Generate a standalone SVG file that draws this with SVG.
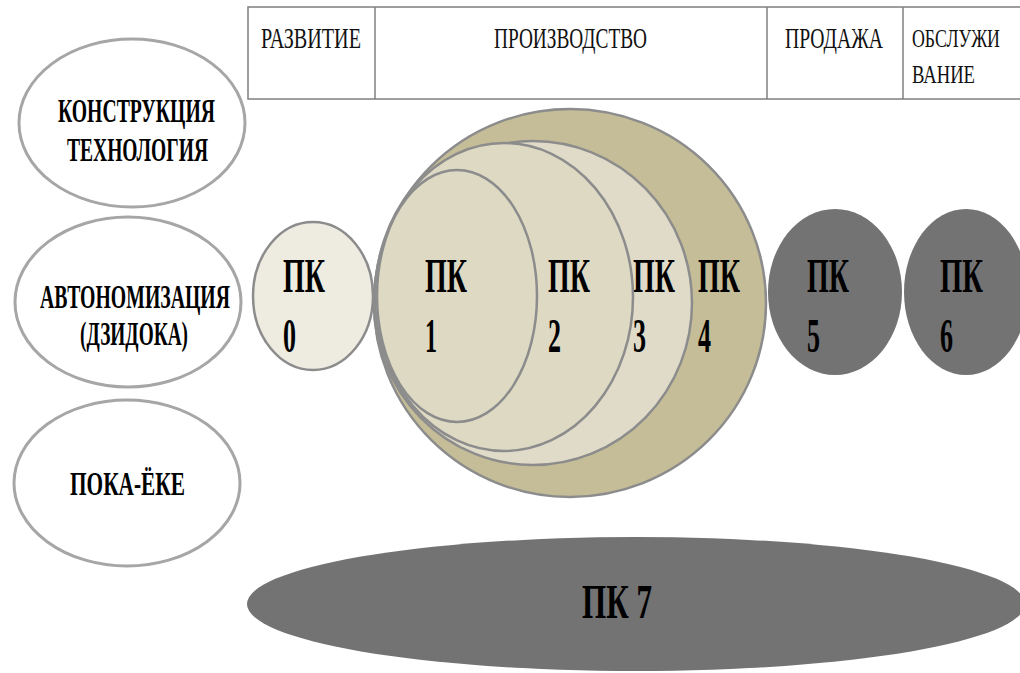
<svg xmlns="http://www.w3.org/2000/svg" width="1020" height="673" viewBox="0 0 1020 673">
<style>
.hdr{font-family:"Liberation Serif","Times New Roman",serif;font-size:30px;fill:#111}
.hdr-s{font-family:"Liberation Serif","Times New Roman",serif;font-size:25px;fill:#111}
.lbl{font-family:"Liberation Serif","Times New Roman",serif;font-weight:bold;font-size:34px;fill:#000}
.pk{font-family:"Liberation Serif","Times New Roman",serif;font-weight:bold;font-size:48px;fill:#000}
.oval{fill:#ffffff;stroke:#a6a6a6;stroke-width:3}
.light{stroke:#8c8c8c;stroke-width:2.5}
.dark{fill:#737373}
.line{stroke:#7f7f7f;stroke-width:1.5;fill:none}
</style>
<rect width="1020" height="673" fill="#ffffff"/>
<g id="header">
  <rect x="248" y="7" width="776" height="92" fill="#ffffff" class="line"/>
  <line x1="375" y1="7" x2="375" y2="99" class="line"/>
  <line x1="767" y1="7" x2="767" y2="99" class="line"/>
  <line x1="903" y1="7" x2="903" y2="99" class="line"/>
  <text class="hdr" x="261" y="48" textLength="100" lengthAdjust="spacingAndGlyphs">РАЗВИТИЕ</text>
  <text class="hdr" x="494" y="48" textLength="153" lengthAdjust="spacingAndGlyphs">ПРОИЗВОДСТВО</text>
  <text class="hdr" x="785" y="48" textLength="98" lengthAdjust="spacingAndGlyphs">ПРОДАЖА</text>
  <text class="hdr-s" x="912" y="47" textLength="88" lengthAdjust="spacingAndGlyphs">ОБСЛУЖИ</text>
  <text class="hdr-s" x="912" y="83" textLength="63" lengthAdjust="spacingAndGlyphs">ВАНИЕ</text>
</g>
<g id="konstrukciya">
  <ellipse class="oval" cx="132" cy="123" rx="113" ry="84"/>
  <text class="lbl" x="58" y="122" textLength="157" lengthAdjust="spacingAndGlyphs">КОНСТРУКЦИЯ</text>
  <text class="lbl" x="67" y="161" textLength="141" lengthAdjust="spacingAndGlyphs">ТЕХНОЛОГИЯ</text>
</g>
<g id="avtonomizaciya">
  <ellipse class="oval" cx="128" cy="302" rx="113" ry="85"/>
  <text class="lbl" x="40" y="308" textLength="190" lengthAdjust="spacingAndGlyphs">АВТОНОМИЗАЦИЯ</text>
  <text class="lbl" x="80" y="345" textLength="108" lengthAdjust="spacingAndGlyphs">(ДЗИДОКА)</text>
</g>
<g id="poka-yoke">
  <ellipse class="oval" cx="127" cy="483" rx="113" ry="83"/>
  <text class="lbl" x="70" y="495" textLength="115" lengthAdjust="spacingAndGlyphs">ПОКА-ЁКЕ</text>
</g>
<g id="pk4">
  <ellipse class="light" fill="#c4bd97" cx="570" cy="303" rx="196" ry="194"/>
  <text class="pk" x="698" y="292" textLength="42" lengthAdjust="spacingAndGlyphs">ПК</text>
  <text class="pk" x="698" y="352" textLength="13" lengthAdjust="spacingAndGlyphs">4</text>
</g>
<g id="pk3">
  <ellipse class="light" fill="#dfdbc8" cx="533" cy="303" rx="159" ry="162"/>
  <text class="pk" x="633" y="292" textLength="42" lengthAdjust="spacingAndGlyphs">ПК</text>
  <text class="pk" x="633" y="352" textLength="13" lengthAdjust="spacingAndGlyphs">3</text>
</g>
<g id="pk2">
  <ellipse class="light" fill="#ddd9c3" cx="504" cy="297" rx="129" ry="154"/>
  <text class="pk" x="548" y="292" textLength="42" lengthAdjust="spacingAndGlyphs">ПК</text>
  <text class="pk" x="548" y="352" textLength="13" lengthAdjust="spacingAndGlyphs">2</text>
</g>
<g id="pk1">
  <ellipse class="light" fill="#ddd9c3" cx="457" cy="296" rx="80" ry="126"/>
  <text class="pk" x="425" y="292" textLength="42" lengthAdjust="spacingAndGlyphs">ПК</text>
  <text class="pk" x="425" y="352" textLength="12" lengthAdjust="spacingAndGlyphs">1</text>
</g>
<g id="pk0">
  <ellipse class="light" fill="#eeece1" cx="313" cy="296" rx="60" ry="74"/>
  <text class="pk" x="283" y="292" textLength="42" lengthAdjust="spacingAndGlyphs">ПК</text>
  <text class="pk" x="283" y="352" textLength="13" lengthAdjust="spacingAndGlyphs">0</text>
</g>
<g id="pk5">
  <ellipse class="dark" cx="835" cy="292" rx="67" ry="83"/>
  <text class="pk" x="807" y="292" textLength="42" lengthAdjust="spacingAndGlyphs">ПК</text>
  <text class="pk" x="807" y="352" textLength="13" lengthAdjust="spacingAndGlyphs">5</text>
</g>
<g id="pk6">
  <ellipse class="dark" cx="966" cy="292" rx="62" ry="83"/>
  <text class="pk" x="940" y="292" textLength="43" lengthAdjust="spacingAndGlyphs">ПК</text>
  <text class="pk" x="940" y="352" textLength="13" lengthAdjust="spacingAndGlyphs">6</text>
</g>
<g id="pk7">
  <ellipse class="dark" cx="636" cy="604" rx="389" ry="67"/>
  <text class="pk" x="582" y="618" font-size="52" textLength="70" lengthAdjust="spacingAndGlyphs">ПК 7</text>
</g>
</svg>
